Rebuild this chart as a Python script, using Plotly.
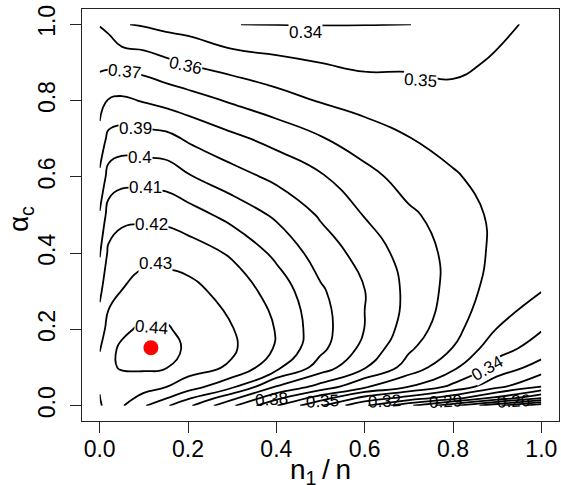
import plotly.graph_objects as go

# Grid of the surface: n1/n along x, alpha_c along y
n1_frac = [0.0, 0.02, 0.05, 0.1, 0.15, 0.2, 0.3, 0.4, 0.5, 0.6, 0.7, 0.8, 0.9, 1.0]
alpha_c = [0.0, 0.02, 0.05, 0.1, 0.15, 0.2, 0.3, 0.4, 0.5, 0.6, 0.7, 0.8, 0.9, 1.0]

# surface values, one list per n1/n column (bottom to top in alpha_c)
col_000 = [0.428, 0.4296, 0.4308, 0.431, 0.4298, 0.425, 0.418, 0.409, 0.401, 0.392, 0.3835, 0.376, 0.368, 0.3595]
col_002 = [0.436, 0.437, 0.438, 0.439, 0.438, 0.4335, 0.4267, 0.4219, 0.4143, 0.4039, 0.3928, 0.3806, 0.3675, 0.3575]
col_005 = [0.431, 0.434, 0.437, 0.4405, 0.4412, 0.4385, 0.4302, 0.4244, 0.4178, 0.4065, 0.3947, 0.3818, 0.3666, 0.3506]
col_010 = [0.421, 0.427, 0.4335, 0.4415, 0.445, 0.4415, 0.4345, 0.427, 0.4178, 0.4063, 0.3938, 0.3793, 0.3651, 0.349]
col_015 = [0.4115, 0.4205, 0.4303, 0.4405, 0.4445, 0.4412, 0.4344, 0.4269, 0.4172, 0.4056, 0.3931, 0.3768, 0.3619, 0.347]
col_020 = [0.402, 0.4115, 0.425, 0.4345, 0.438, 0.437, 0.4335, 0.4249, 0.4144, 0.401, 0.3887, 0.3743, 0.3591, 0.346]
col_030 = [0.3815, 0.3925, 0.412, 0.4285, 0.4315, 0.4305, 0.4256, 0.4188, 0.4066, 0.3939, 0.3823, 0.3688, 0.3554, 0.34005]
col_040 = [0.3605, 0.3725, 0.3895, 0.4125, 0.419, 0.4195, 0.416, 0.4077, 0.3984, 0.3877, 0.3767, 0.3639, 0.3524, 0.3398]
col_050 = [0.341, 0.3545, 0.3765, 0.3955, 0.4025, 0.404, 0.4015, 0.3954, 0.3889, 0.3812, 0.3708, 0.3593, 0.3499, 0.3397]
col_060 = [0.3215, 0.3365, 0.3615, 0.3806, 0.387, 0.3898, 0.3902, 0.3862, 0.3795, 0.3731, 0.365, 0.3562, 0.348, 0.3398]
col_070 = [0.302, 0.326, 0.350, 0.366, 0.3715, 0.3755, 0.3775, 0.3755, 0.3715, 0.3662, 0.3603, 0.3539, 0.3487, 0.3398]
col_080 = [0.282, 0.314, 0.3375, 0.352, 0.3597, 0.3632, 0.3665, 0.3672, 0.366, 0.361, 0.3567, 0.3521, 0.3484, 0.344]
col_090 = [0.262, 0.297, 0.3225, 0.3365, 0.3435, 0.3497, 0.3552, 0.3575, 0.3575, 0.3563, 0.3545, 0.3525, 0.3508, 0.3485]
col_100 = [0.242, 0.280, 0.310, 0.3255, 0.336, 0.3405, 0.3502, 0.3535, 0.3545, 0.3545, 0.354, 0.353, 0.352, 0.3515]

columns = [col_000, col_002, col_005, col_010, col_015, col_020, col_030,
           col_040, col_050, col_060, col_070, col_080, col_090, col_100]

# contour levels
level_start = 0.25
level_end = 0.44
level_step = 0.01

# location of the maximum
best_n1 = [0.116]
best_alpha = [0.152]

# contour labels that are drawn
label_levels = [0.34, 0.35, 0.36, 0.37, 0.39, 0.40, 0.41, 0.42, 0.43, 0.44,
                0.34, 0.38, 0.35, 0.32, 0.29, 0.26]

# build z[row=alpha][col=n1]
z = [[columns[j][i] for j in range(len(n1_frac))] for i in range(len(alpha_c))]

fig = go.Figure()
fig.add_trace(go.Contour(
    x=n1_frac, y=alpha_c, z=z,
    contours=dict(start=level_start, end=level_end + 1e-9, size=level_step,
                  coloring="lines", showlabels=False),
    colorscale=[[0, "black"], [1, "black"]],
    showscale=False,
    line=dict(width=1.8, smoothing=1.3),
    hoverinfo="skip",
))
fig.add_trace(go.Scatter(
    x=best_n1, y=best_alpha, mode="markers",
    marker=dict(color="#ff0000", size=15, line=dict(width=0)),
    hoverinfo="skip", showlegend=False,
))

# placement of each contour label (x, y, angle, white gap behind it)
label_place = [
    (0.465, 0.979, 0, True),
    (0.726, 0.853, 4, True),
    (0.194, 0.893, 12, True),
    (0.057, 0.875, 6, True),
    (0.082, 0.727, 0, True),
    (0.091, 0.652, 0, True),
    (0.104, 0.571, 0, True),
    (0.117, 0.476, 0, True),
    (0.127, 0.374, 0, True),
    (0.118, 0.204, 5, True),
    (0.878, 0.097, -30, True),
    (0.390, 0.016, -4, False),
    (0.504, 0.010, -3, False),
    (0.645, 0.010, -3, False),
    (0.784, 0.010, -3, False),
    (0.937, 0.010, -3, False),
]

def fmt(v):
    s = f"{v:.2f}"
    return s.rstrip("0") if s.endswith("0") else s

annotations = []
for lev, (lx, ly, ang, gap) in zip(label_levels, label_place):
    annotations.append(dict(
        x=lx, y=ly, xref="x", yref="y", text=fmt(lev), showarrow=False,
        textangle=ang, font=dict(family="Liberation Sans, Arial", size=17, color="black"),
        bgcolor="white" if gap else "rgba(0,0,0,0)", borderpad=0,
    ))

# axis titles
annotations.append(dict(
    x=0.5, y=-0.123, xref="paper", yref="paper", text="n<sub>1</sub>\u2009/\u2009n",
    showarrow=False, font=dict(family="Liberation Sans, Arial", size=28, color="black"),
    xanchor="center", yanchor="middle",
))
annotations.append(dict(
    x=-0.13, y=0.49, xref="paper", yref="paper", text="α<sub>c</sub>",
    showarrow=False, textangle=-90,
    font=dict(family="Liberation Sans, Arial", size=28, color="black"),
    xanchor="center", yanchor="middle",
))

axis_common = dict(
    range=[-0.04, 1.04], showgrid=False, zeroline=False,
    showline=True, linecolor="#222", linewidth=1, mirror=True,
    ticks="outside", ticklen=11, tickwidth=1, tickcolor="#222",
    tickvals=[0, 0.2, 0.4, 0.6, 0.8, 1.0],
    ticktext=["0.0", "0.2", "0.4", "0.6", "0.8", "1.0"],
    tickfont=dict(family="Liberation Sans, Arial", size=23, color="black"),
)

fig.update_layout(
    width=561, height=485,
    margin=dict(l=82, r=2, t=9, b=64),
    paper_bgcolor="white", plot_bgcolor="white",
    showlegend=False,
    xaxis=dict(**axis_common, ticklabelstandoff=-4),
    yaxis=dict(**axis_common, tickangle=-90, ticklabelstandoff=6),
    annotations=annotations,
)

fig.write_html("out.html")
